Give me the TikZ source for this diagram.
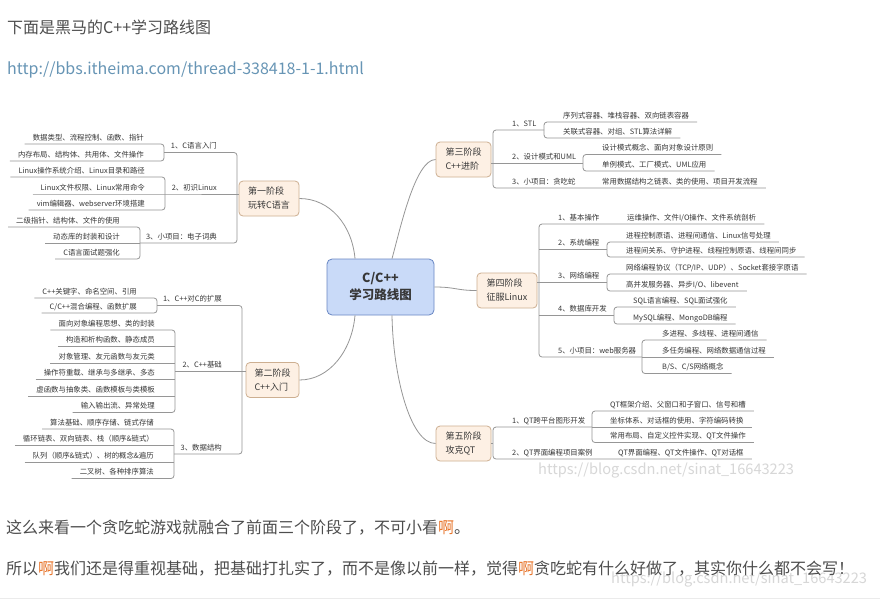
\documentclass[tikz,border=0pt]{standalone}
\usepackage{fontspec}
\setmainfont{Noto Sans CJK SC}
\usepackage{tikz}
\usetikzlibrary{positioning}
\definecolor{txtgray}{RGB}{77,77,77}
\definecolor{linkblue}{RGB}{103,149,181}
\definecolor{hlorange}{RGB}{232,118,45}
\definecolor{mapline}{RGB}{150,150,150}
\definecolor{maptext}{RGB}{55,55,55}
\definecolor{stagefill}{RGB}{253,240,228}
\definecolor{stagedraw}{RGB}{205,175,145}
\definecolor{rootfill}{RGB}{201,218,248}
\definecolor{rootdraw}{RGB}{105,135,195}
\definecolor{wmgray}{RGB}{215,215,215}
\definecolor{sepgray}{RGB}{235,235,235}

\begin{document}
\begin{tikzpicture}[x=1pt,y=-1pt,
    conn/.style={draw=mapline,line width=0.8pt},
    brk/.style={conn,rounded corners=3pt},
    stage/.style={draw=stagedraw,fill=stagefill,rounded corners=4pt,
                  line width=0.8pt,align=left,inner sep=0pt,
                  minimum height=35pt,text=maptext,
                  font=\fontsize{9}{14}\selectfont},
    root/.style={draw=rootdraw,fill=rootfill,rounded corners=5pt,
                 line width=0.8pt,align=center,inner sep=0pt,
                 minimum width=107pt,minimum height=56pt,text=maptext,
                 font=\bfseries\fontsize{12.5}{17}\selectfont},
    leaf/.style={inner xsep=8pt,inner ysep=3.5pt,text depth=0pt,
                 text=maptext,font=\fontsize{7.4}{9}\selectfont},
    lleaf/.style={leaf,anchor=south east},
    rleaf/.style={leaf,anchor=south west},
    para/.style={anchor=base west,inner sep=0pt,text=txtgray,
                 font=\fontsize{16}{20}\selectfont},
    wmark/.style={anchor=west,inner sep=0pt,text=wmgray,
                  font=\fontsize{14.6}{17}\selectfont}]
  \fill[white] (0,0) rectangle (880,600);
  \useasboundingbox (0,0) rectangle (880,600);

  % watermarks sit behind everything
  \node[wmark] (wm1) at (538,471) {https://blog.csdn.net/sinat\_16643223};
  \node[wmark] (wm2) at (611,580) {https://blog.csdn.net/sinat\_16643223};

  % page text
  \node[para] (head) at (7,33) {下面是黑马的C++学习路线图};
  \node[para,text=linkblue] (url) at (7,74)
    {http://bbs.itheima.com/thread-338418-1-1.html};
  \node[para] (p1) at (6,533)
    {这么来看一个贪吃蛇游戏就融合了前面三个阶段了，不可小看{\color{hlorange}啊}。};
  \node[para] (p2) at (6,574)
    {所以{\color{hlorange}啊}我们还是得重视基础，把基础打扎实了，而不是像以前一样，觉得{\color{hlorange}啊}贪吃蛇有什么好做了，其实你什么都不会写！};
  \draw[sepgray] (0,598.5) -- (880,598.5);

  % root and stages
  \node[root] (root) at (380.5,287) {C/C++\\学习路线图};
  \node[stage,minimum width=60pt] (s1) at (269,198.5) {第一阶段\\玩转C语言};
  \node[stage,minimum width=53pt] (s2) at (272.5,380) {第二阶段\\C++入门};
  \node[stage,minimum width=55pt] (s3) at (463.5,159.5) {第三阶段\\C++进阶};
  \node[stage,minimum width=60pt] (s4) at (507,290.5) {第四阶段\\征服Linux};
  \node[stage,minimum width=55pt] (s5) at (463.5,443.5) {第五阶段\\攻克QT};

  \draw[conn] (s1.east) .. controls (330,198.5) and (352,225)
    .. ([xshift=-25.5pt]root.north);
  \draw[conn] ([xshift=11.5pt]root.north) .. controls (400,230) and (415,159.5)
    .. (s3.west);
  \draw[conn] (root.east) .. controls (456,287) and (456,290.5) .. (s4.west);
  \draw[conn] ([xshift=-25.5pt]root.south) .. controls (352,350) and (330,380)
    .. (s2.east);
  \draw[conn] ([xshift=11.5pt]root.south) .. controls (393,375) and (410,443.5)
    .. (s5.west);

  % stage 1
  \coordinate (t1) at (237,194);
  \coordinate (k11) at (164,152.5);
  \coordinate (k12) at (165,194);
  \coordinate (k13) at (140,243);
  \node[lleaf] (b11) at (225,152.5) {1、C语言入门};
  \node[lleaf] (b12) at (225,194) {2、初识Linux};
  \node[lleaf] (b13) at (225,243) {3、小项目：电子词典};
  \node[lleaf] (l111) at (152,144) {数据类型、流程控制、函数、指针};
  \node[lleaf] (l112) at (152,161) {内存布局、结构体、共用体、文件操作};
  \node[lleaf] (l121) at (153,177) {Linux操作系统介绍、Linux目录和路径};
  \node[lleaf] (l122) at (153,194) {Linux文件权限、Linux常用命令};
  \node[lleaf] (l123) at (153,210) {vim编辑器、webserver环境搭建};
  \node[lleaf] (l131) at (128,227) {二级指针、结构体、文件的使用};
  \node[lleaf] (l132) at (128,243) {动态库的封装和设计};
  \node[lleaf] (l133) at (128,259) {C语言面试题强化};
  \draw[brk] (l111.south west) -| (k11) |- (l112.south west);
  \draw[brk] (l121.south west) -| (k12) |- (l123.south west);
  \draw[conn] (l122.south west) -- (k12) -- (k12 -| s1.west);
  \draw[brk] (l131.south west) -| (k13) |- (l133.south west);
  \draw[conn] (l132.south west) -- (k13);
  \draw[brk] (k11) -| (t1) |- (k13);

  % stage 2
  \coordinate (t2) at (242,371.5);
  \coordinate (k21) at (157,305.5);
  \coordinate (k22) at (175,371.5);
  \coordinate (k23) at (174,454);
  \node[lleaf] (b21) at (230,305.5) {1、C++对C的扩展};
  \node[lleaf] (b22) at (230,371.5) {2、C++基础};
  \node[lleaf] (b23) at (230,454) {3、数据结构};
  \node[lleaf] (l211) at (145,298) {C++关键字、命名空间、引用};
  \node[lleaf] (l212) at (145,313) {C/C++混合编程、函数扩展};
  \node[lleaf] (l221) at (163,330) {面向对象编程思想、类的封装};
  \node[lleaf] (l222) at (163,346.5) {构造和析构函数、静态成员};
  \node[lleaf] (l223) at (163,363) {对象管理、友元函数与友元类};
  \node[lleaf] (l224) at (163,379.5) {操作符重载、继承与多继承、多态};
  \node[lleaf] (l225) at (163,396) {虚函数与抽象类、函数模板与类模板};
  \node[lleaf] (l226) at (163,412.5) {输入输出流、异常处理};
  \node[lleaf] (l231) at (162,429) {算法基础、顺序存储、链式存储};
  \node[lleaf] (l232) at (162,445.5) {循环链表、双向链表、栈（顺序\&链式）};
  \node[lleaf] (l233) at (162,462) {队列（顺序\&链式）、树的概念\&遍历};
  \node[lleaf] (l234) at (162,478.5) {二叉树、各种排序算法};
  \draw[brk] (l211.south west) -| (k21) |- (l212.south west);
  \draw[brk] (l221.south west) -| (k22) |- (l226.south west);
  \foreach \n in {2,...,5}
    \draw[conn] (l22\n.south west) -- (l22\n.south west -| k22);
  \draw[conn] (k22) -- (k22 -| s2.west);
  \draw[brk] (l231.south west) -| (k23) |- (l234.south west);
  \foreach \n in {2,3}
    \draw[conn] (l23\n.south west) -- (l23\n.south west -| k23);
  \draw[brk] (k21) -| (t2) |- (k23);

  % stage 3
  \coordinate (t3) at (493,163);
  \coordinate (k31) at (544,130);
  \coordinate (k32) at (583,163);
  \node[rleaf] (b31) at (504,130) {1、STL};
  \node[rleaf] (b32) at (504,163) {2、设计模式和UML};
  \node[rleaf] (b33) at (504,188) {3、小项目：贪吃蛇};
  \node[rleaf] (l311) at (555,122) {序列式容器、堆栈容器、双向链表容器};
  \node[rleaf] (l312) at (555,138) {关联式容器、对组、STL算法详解};
  \node[rleaf] (l321) at (594,154.5) {设计模式概念、面向对象设计原则};
  \node[rleaf] (l322) at (594,171) {单例模式、工厂模式、UML应用};
  \node[rleaf] (l331) at (594,188) {常用数据结构之链表、类的使用、项目开发流程};
  \draw[brk] (l311.south east) -| (k31) |- (l312.south east);
  \draw[brk] (l321.south east) -| (k32) |- (l322.south east);
  \draw[conn] (s3.east |- k32) -- (k32);
  \draw[brk] (k31) -| (t3) |- (l331.south east);

  % stage 4
  \coordinate (t4) at (539,283);
  \coordinate (k42) at (607,249.5);
  \coordinate (k43) at (607,282.5);
  \coordinate (k44) at (614,315.5);
  \coordinate (k45) at (642,357);
  \node[rleaf] (b41) at (550,224) {1、基本操作};
  \node[rleaf] (b42) at (550,249.5) {2、系统编程};
  \node[rleaf] (b43) at (550,282.5) {3、网络编程};
  \node[rleaf] (b44) at (550,315.5) {4、数据库开发};
  \node[rleaf] (b45) at (550,357) {5、小项目：web服务器};
  \node[rleaf] (l411) at (619,224) {运维操作、文件I/O操作、文件系统剖析};
  \node[rleaf] (l421) at (618,242) {进程控制原语、进程间通信、Linux信号处理};
  \node[rleaf] (l422) at (618,257) {进程间关系、守护进程、线程控制原语、线程间同步};
  \node[rleaf] (l431) at (618,274) {网络编程协议（TCP/IP、UDP）、Socket套接字原语};
  \node[rleaf] (l432) at (618,291) {高并发服务器、异步I/O、libevent};
  \node[rleaf] (l441) at (625,307) {SQL语言编程、SQL面试强化};
  \node[rleaf] (l442) at (625,324) {MySQL编程、MongoDB编程};
  \node[rleaf] (l451) at (654,340) {多进程、多线程、进程间通信};
  \node[rleaf] (l452) at (654,357) {多任务编程、网络数据通信过程};
  \node[rleaf] (l453) at (654,373.5) {B/S、C/S网络概念};
  \draw[brk] (l411.south east) -| (t4) |- (k45);
  \draw[conn] (t4 |- k42) -- (k42);
  \draw[conn] (s4.east |- k43) -- (k43);
  \draw[conn] (t4 |- k44) -- (k44);
  \draw[brk] (l421.south east) -| (k42) |- (l422.south east);
  \draw[brk] (l431.south east) -| (k43) |- (l432.south east);
  \draw[brk] (l441.south east) -| (k44) |- (l442.south east);
  \draw[brk] (l451.south east) -| (k45) |- (l453.south east);
  \draw[conn] (k45) -- (l452.south east);

  % stage 5
  \coordinate (t5) at (493,443.5);
  \coordinate (k51) at (592,427);
  \node[rleaf] (b51) at (504,427) {1、QT跨平台图形开发};
  \node[rleaf] (b52) at (504,459) {2、QT界面编程项目案例};
  \node[rleaf] (l511) at (602,411) {QT框架介绍、父窗口和子窗口、信号和槽};
  \node[rleaf] (l512) at (602,427) {坐标体系、对话框的使用、字符编码转换};
  \node[rleaf] (l513) at (602,442.5) {常用布局、自定义控件实现、QT文件操作};
  \node[rleaf] (l521) at (610,459) {QT界面编程、QT文件操作、QT对话框};
  \draw[brk] (l511.south east) -| (k51) |- (l513.south east);
  \draw[conn] (k51) -- (l512.south east);
  \draw[brk] (k51) -| (t5) |- (l521.south east);
  \draw[conn] (s5.east) -- (t5);
\end{tikzpicture}
\end{document}
